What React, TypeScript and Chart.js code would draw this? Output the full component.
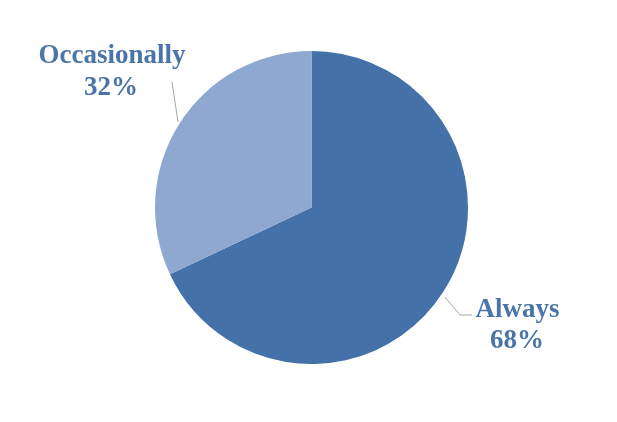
import React, { useEffect, useRef } from "react";
import { Chart, registerables } from "chart.js";

Chart.register(...registerables);

const categories = ["Always", "Occasionally"];
const values = [68, 32];
const valueLabels = ["68%", "32%"];
const colors = ["#4472A8", "#8FA8D0"];

const TEXT_COLOR = "#4B74AA";
const FONT = 'bold 27px "Liberation Serif", "Times New Roman", serif';

const labelPlugin = {
  id: "calloutLabels",
  afterDatasetsDraw(chart: any) {
    const ctx = chart.ctx;
    const meta = chart.getDatasetMeta(0);
    const arc0 = meta.data[0];
    const cx = arc0.x;
    const cy = arc0.y;
    const r = arc0.outerRadius;
    const s = r / 156.5;
    const P = (dx: number, dy: number) => [cx + dx * s, cy + dy * s];

    ctx.save();
    ctx.strokeStyle = "#A6A6A6";
    ctx.lineWidth = 1;
    // Occasionally leader
    ctx.beginPath();
    let a = P(-133.5, -85.5);
    let b = P(-139.5, -125.5);
    ctx.moveTo(a[0], a[1]);
    ctx.lineTo(b[0], b[1]);
    ctx.stroke();
    // Always leader
    ctx.beginPath();
    a = P(133.5, 89.5);
    b = P(148.5, 107.5);
    const c = P(160.5, 107.5);
    ctx.moveTo(a[0], a[1]);
    ctx.lineTo(b[0], b[1]);
    ctx.lineTo(c[0], c[1]);
    ctx.stroke();

    ctx.fillStyle = TEXT_COLOR;
    ctx.font = FONT;
    ctx.textAlign = "center";
    ctx.textBaseline = "alphabetic";
    let t = P(-199.5, -144.5);
    ctx.fillText(categories[1], t[0], t[1]);
    t = P(-200.5, -112.5);
    ctx.fillText(valueLabels[1], t[0], t[1]);
    t = P(206, 109.5);
    ctx.fillText(categories[0], t[0], t[1]);
    t = P(205.5, 140.5);
    ctx.fillText(valueLabels[0], t[0], t[1]);
    ctx.restore();
  },
};

export default function App() {
  const ref = useRef<HTMLCanvasElement | null>(null);
  useEffect(() => {
    if (!ref.current) return;
    const chart = new Chart(ref.current, {
      type: "pie",
      data: {
        labels: categories,
        datasets: [
          {
            data: values,
            backgroundColor: colors,
            borderWidth: 0,
          },
        ],
      },
      options: {
        responsive: false,
        animation: false,
        layout: { padding: { left: 155, right: 149, top: 51, bottom: 58 } },
        plugins: {
          legend: { display: false },
          tooltip: { enabled: false },
        },
      },
      plugins: [labelPlugin],
    });
    return () => chart.destroy();
  }, []);
  return (
    <div style={{ position: "fixed", left: 0, top: 0, width: 617, height: 422, background: "#fff" }}>
      <canvas ref={ref} width={617} height={422} style={{ width: 617, height: 422 }} />
    </div>
  );
}
